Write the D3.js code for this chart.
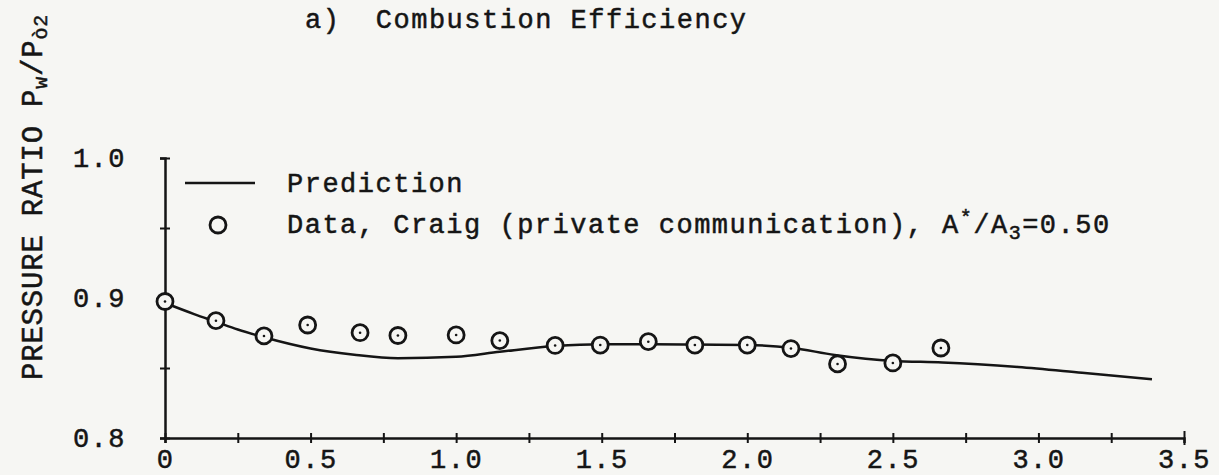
<!DOCTYPE html>
<html>
<head>
<meta charset="utf-8">
<script src="https://cdn.jsdelivr.net/npm/d3@7"></script>
<style>
  body { margin: 0; background: #f6f6f3; }
  text { font-family: "Liberation Mono", "Courier New", monospace; fill: #151515; stroke: #151515; stroke-width: 0.5px; }
</style>
</head>
<body>
<script>
// prediction curve
const predX = [0, 0.1, 0.175, 0.25, 0.34, 0.5, 0.65, 0.8, 1.0, 1.15, 1.34, 1.5, 1.66, 1.82, 2.0, 2.15, 2.3, 2.5, 2.67, 2.93, 3.15, 3.39];
const predY = [0.8964, 0.8885, 0.883, 0.8775, 0.872, 0.864, 0.8595, 0.857, 0.858, 0.8616, 0.8657, 0.867, 0.867, 0.8667, 0.8664, 0.8645, 0.8593, 0.855, 0.854, 0.8507, 0.8466, 0.842];

// Craig data points
const dataX = [0, 0.175, 0.34, 0.49, 0.67, 0.80, 1.0, 1.15, 1.34, 1.495, 1.66, 1.82, 2.0, 2.15, 2.31, 2.5, 2.665];
const dataY = [0.8975, 0.8838, 0.8729, 0.8807, 0.8752, 0.8732, 0.8736, 0.8696, 0.8661, 0.8664, 0.8688, 0.8664, 0.8664, 0.8639, 0.8529, 0.8536, 0.8643];

const xTicks = [0, 0.25, 0.5, 0.75, 1.0, 1.25, 1.5, 1.75, 2.0, 2.25, 2.5, 2.75, 3.0, 3.25, 3.5];
const yTicks = [0.8, 0.85, 0.9, 0.95, 1.0];

const w = 1219;
const h = 475;

const x = d3.scaleLinear().domain([0, 3.5]).range([165, 1184]);
const y = d3.scaleLinear().domain([0.8, 1.0]).range([438, 158]);

const svg = d3.select('body').append('svg')
  .attr('width', w)
  .attr('height', h);

const ink = '#151515';

// axes with ticks crossing the line
const xAxis = d3.axisBottom(x)
  .tickValues(xTicks)
  .tickSize(5)
  .tickPadding(6)
  .tickFormat(d => (Math.round(d * 100) % 50 !== 0) ? '' : (d === 0 ? '0' : d3.format('.1f')(d)));

const yAxis = d3.axisLeft(y)
  .tickValues(yTicks)
  .tickSize(5)
  .tickPadding(34)
  .tickFormat(d => (Math.round(d * 100) % 10 !== 0) ? '' : d3.format('.1f')(d));

const gx = svg.append('g').attr('transform', `translate(0, ${y(0.8)})`).call(xAxis);
const gy = svg.append('g').attr('transform', `translate(${x(0)}, 0)`).call(yAxis);

[gx, gy].forEach(g => {
  g.select('.domain').attr('stroke', ink).attr('stroke-width', 2.5);
  g.selectAll('.tick line').attr('stroke', ink).attr('stroke-width', 2);
  g.selectAll('.tick text')
    .attr('fill', ink)
    .style('font-size', '27px')
    .style('letter-spacing', '1.5px');
});
gx.selectAll('.tick line').attr('y1', -5).attr('y2', 5);
gy.selectAll('.tick line').attr('x1', -5).attr('x2', 5);
gx.selectAll('.tick').filter(d => d === 3.5).select('line').attr('y1', -7).attr('y2', 7);

// prediction line
const pred = predX.map((v, i) => [v, predY[i]]);
svg.append('path')
  .datum(pred)
  .attr('fill', 'none')
  .attr('stroke', ink)
  .attr('stroke-width', 2.5)
  .attr('d', d3.line().x(d => x(d[0])).y(d => y(d[1])).curve(d3.curveMonotoneX));

// data circles
const pts = dataX.map((v, i) => [v, dataY[i]]);
const pg = svg.append('g');
pg.selectAll('circle.o')
  .data(pts)
  .enter()
  .append('circle')
  .attr('class', 'o')
  .attr('cx', d => x(d[0]))
  .attr('cy', d => y(d[1]))
  .attr('r', 8)
  .attr('fill', '#f6f6f3')
  .attr('stroke', ink)
  .attr('stroke-width', 2.8);
pg.selectAll('circle.dot')
  .data(pts)
  .enter()
  .append('circle')
  .attr('class', 'dot')
  .attr('cx', d => x(d[0]))
  .attr('cy', d => y(d[1]))
  .attr('r', 1.3)
  .attr('fill', ink);

// title
svg.append('text')
  .attr('x', 305)
  .attr('y', 28)
  .style('font-size', '27px')
  .style('letter-spacing', '1.5px')
  .attr('xml:space', 'preserve')
  .text('a)  Combustion Efficiency');

// y label
const yl = svg.append('text')
  .attr('transform', 'translate(42, 380) rotate(-90)')
  .style('font-size', '29px')
  .style('letter-spacing', '0.8px');
yl.append('tspan').text('PRESSURE RATIO P');
yl.append('tspan').attr('baseline-shift', '-25%').style('font-size', '20px').text('w');
yl.append('tspan').text('/P');
yl.append('tspan').attr('baseline-shift', '-25%').style('font-size', '20px').text('ò2');

// legend
svg.append('line')
  .attr('x1', 185).attr('x2', 255)
  .attr('y1', 183).attr('y2', 183)
  .attr('stroke', ink).attr('stroke-width', 2.5);
svg.append('text')
  .attr('x', 287).attr('y', 192)
  .style('font-size', '27px')
  .style('letter-spacing', '1.5px')
  .text('Prediction');

svg.append('circle')
  .attr('cx', 218).attr('cy', 225).attr('r', 8)
  .attr('fill', 'none').attr('stroke', ink).attr('stroke-width', 2.8);
const lt = svg.append('text')
  .attr('x', 287).attr('y', 233)
  .style('font-size', '27px')
  .style('letter-spacing', '1.5px');
lt.append('tspan').text('Data, Craig (private communication), A');
lt.append('tspan').attr('baseline-shift', '45%').style('font-size', '20px').text('*');
lt.append('tspan').text('/A');
lt.append('tspan').attr('baseline-shift', '-30%').style('font-size', '20px').text('3');
lt.append('tspan').text('=0.50');
</script>
</body>
</html>
